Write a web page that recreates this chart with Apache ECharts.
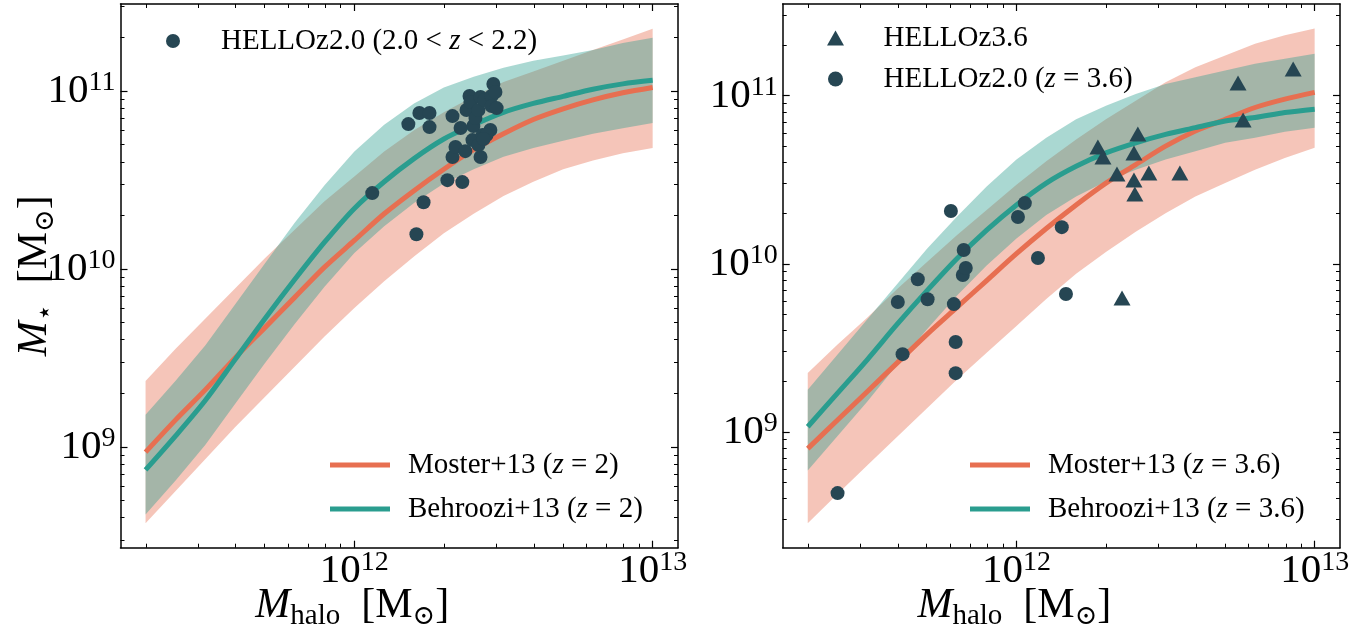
<!DOCTYPE html>
<html>
<head>
<meta charset="utf-8">
<script src="https://cdn.jsdelivr.net/npm/echarts@6/dist/echarts.min.js"></script>
<style>
  html, body { margin: 0; padding: 0; background: #ffffff; }
  #chart { width: 1365px; height: 633px; }
</style>
</head>
<body>
<div id="chart"></div>
<script>
// All quantities are log10 of masses in solar units.

// Halo-mass grid on which the model relations are tabulated
const logMhGrid = [11.3, 11.4, 11.5, 11.6, 11.7, 11.8, 11.9, 12.0, 12.1, 12.2,
                   12.3, 12.4, 12.5, 12.6, 12.7, 12.8, 12.9, 13.0];

// ---- z = 2 panel ----
const mosterZ2    = [8.97, 9.15, 9.32, 9.50, 9.67, 9.84, 10.01, 10.16, 10.31, 10.44,
                     10.56, 10.67, 10.76, 10.84, 10.90, 10.95, 10.99, 11.02];
const mosterZ2Hi  = [9.37, 9.55, 9.72, 9.89, 10.06, 10.22, 10.38, 10.52, 10.66, 10.78,
                     10.88, 10.97, 11.05, 11.11, 11.17, 11.23, 11.29, 11.35];
const mosterZ2Lo  = [8.57, 8.75, 8.93, 9.11, 9.28, 9.45, 9.62, 9.78, 9.93, 10.07,
                     10.20, 10.31, 10.41, 10.49, 10.56, 10.61, 10.65, 10.68];
const behrooziZ2   = [8.87, 9.06, 9.26, 9.49, 9.72, 9.94, 10.15, 10.34, 10.49, 10.62,
                      10.73, 10.81, 10.88, 10.93, 10.97, 11.01, 11.04, 11.06];
const behrooziZ2Hi = [9.18, 9.37, 9.57, 9.80, 10.03, 10.26, 10.47, 10.66, 10.81, 10.93,
                      11.02, 11.08, 11.13, 11.17, 11.20, 11.23, 11.27, 11.30];
const behrooziZ2Lo = [8.62, 8.81, 9.01, 9.24, 9.47, 9.69, 9.90, 10.09, 10.24, 10.37,
                      10.48, 10.56, 10.63, 10.68, 10.72, 10.76, 10.79, 10.82];

// HELLO galaxies, 2.0 < z < 2.2: [log Mhalo, log Mstar]
const helloZ20 = [
  [12.060, 10.426], [12.181, 10.814], [12.218, 10.876], [12.252, 10.876], [12.252, 10.797],
  [12.208, 10.195], [12.232, 10.375], [12.312, 10.499], [12.329, 10.629], [12.329, 10.859],
  [12.339, 10.685], [12.356, 10.792], [12.362, 10.488], [12.372, 10.662], [12.376, 10.893],
  [12.386, 10.972], [12.389, 10.938], [12.396, 10.724], [12.399, 10.803], [12.406, 10.848],
  [12.416, 10.893], [12.423, 10.966], [12.430, 10.752], [12.436, 10.949], [12.423, 10.629],
  [12.460, 10.972], [12.460, 10.916], [12.456, 10.781], [12.466, 11.039], [12.473, 10.994],
  [12.477, 10.904], [12.443, 10.752], [12.416, 10.696], [12.433, 10.730]
];

// ---- z = 3.6 panel ----
const mosterZ36    = [8.90, 9.07, 9.24, 9.41, 9.58, 9.74, 9.90, 10.06, 10.21, 10.35,
                      10.48, 10.59, 10.70, 10.79, 10.86, 10.93, 10.98, 11.02];
const mosterZ36Hi  = [9.35, 9.52, 9.68, 9.85, 10.01, 10.17, 10.32, 10.47, 10.61, 10.74,
                      10.86, 10.97, 11.08, 11.17, 11.24, 11.31, 11.36, 11.40];
const mosterZ36Lo  = [8.455, 8.63, 8.80, 8.97, 9.14, 9.31, 9.47, 9.63, 9.79, 9.94,
                      10.07, 10.19, 10.30, 10.40, 10.48, 10.56, 10.63, 10.69];
const behrooziZ36   = [9.03, 9.23, 9.43, 9.64, 9.84, 10.03, 10.20, 10.35, 10.48, 10.58,
                       10.66, 10.72, 10.77, 10.81, 10.85, 10.87, 10.90, 10.92];
const behrooziZ36Hi = [9.25, 9.46, 9.67, 9.88, 10.09, 10.28, 10.46, 10.62, 10.75, 10.86,
                       10.94, 11.01, 11.07, 11.11, 11.15, 11.19, 11.22, 11.25];
const behrooziZ36Lo = [8.77, 8.975, 9.18, 9.40, 9.61, 9.81, 9.99, 10.15, 10.29, 10.40,
                       10.49, 10.56, 10.62, 10.67, 10.72, 10.75, 10.785, 10.81];

// HELLO z = 3.6 galaxies
const helloZ36 = [
  [12.273, 10.695], [12.290, 10.635], [12.337, 10.534], [12.394, 10.659], [12.407, 10.772],
  [12.394, 10.498], [12.397, 10.415], [12.444, 10.540], [12.548, 10.540], [12.354, 9.796],
  [12.743, 11.076], [12.760, 10.855], [12.928, 11.159]
];
// HELLO z = 2.0 galaxies evolved to z = 3.6
const helloZ20at36 = [
  [11.400, 8.635], [11.602, 9.772], [11.618, 9.462], [11.669, 9.908], [11.702, 9.789],
  [11.790, 9.760], [11.820, 9.933], [11.796, 9.534], [11.796, 9.349], [11.780, 10.314],
  [11.823, 10.082], [11.830, 9.975], [12.005, 10.278], [12.028, 10.361], [12.072, 10.034],
  [12.152, 10.218], [12.166, 9.820]
];

// Axis ranges (log10) and labelled decades
const xRange = [11.216, 13.085];
const yRangeLeft = [8.433, 11.489];
const yRangeRight = [8.31, 11.546];
const xMajor = [12, 13];
const yMajor = [9, 10, 11];

const C_MOSTER = '#E76F51';
const C_BEHROOZI = '#2A9D8F';
const C_DATA = '#264653';
const SERIF = '"Liberation Serif", "DejaVu Serif", serif';

function minorTicks(lo, hi) {
  const out = [];
  for (let n = Math.floor(lo); n <= Math.ceil(hi); n++) {
    for (let k = 2; k <= 9; k++) {
      const v = n + Math.log10(k);
      if (v > lo && v < hi) out.push(v);
    }
  }
  return out;
}

const tickRich = {
  b: { fontFamily: SERIF, fontSize: 41, lineHeight: 45, color: '#000' },
  s: { fontFamily: SERIF, fontSize: 28, lineHeight: 29, verticalAlign: 'top', color: '#000' }
};
const powerLabel = v => '{b|10}{s|' + Math.round(v) + '}';

// Four axes per side pair: labelled major, minor, mirrored major, mirrored minor
function axisSet(dim, gridIndex, range, majors, extra) {
  const low = dim === 'x' ? 'bottom' : 'left';
  const high = dim === 'x' ? 'top' : 'right';
  const minors = minorTicks(range[0], range[1]);
  const line = { show: true, onZero: false, lineStyle: { color: '#000', width: 1.5 } };
  const majTick = { show: true, inside: true, length: 7, customValues: majors, lineStyle: { color: '#000', width: 1.2 } };
  const minTick = { show: true, inside: true, length: 4, customValues: minors, lineStyle: { color: '#000', width: 1 } };
  const base = { type: 'value', gridIndex, min: range[0], max: range[1], splitLine: { show: false } };
  return [
    Object.assign({}, base, {
      position: low, axisLine: line, axisTick: majTick,
      axisLabel: { show: true, customValues: majors, formatter: powerLabel, rich: tickRich,
                   margin: dim === 'x' ? 1 : 5 }
    }, extra || {}),
    Object.assign({}, base, { position: low, axisLine: { show: false }, axisTick: minTick, axisLabel: { show: false } }),
    Object.assign({}, base, { position: high, axisLine: line, axisTick: majTick, axisLabel: { show: false } }),
    Object.assign({}, base, { position: high, axisLine: { show: false }, axisTick: minTick, axisLabel: { show: false } })
  ];
}

const titleRich = {
  i: { fontFamily: SERIF, fontStyle: 'italic', fontSize: 42, lineHeight: 50, color: '#000' },
  t: { fontFamily: SERIF, fontSize: 42, lineHeight: 50, color: '#000' },
  sub: { fontFamily: SERIF, fontSize: 29, lineHeight: 24, verticalAlign: 'bottom', color: '#000' },
  sym: { fontFamily: '"DejaVu Serif", serif', fontSize: 27, lineHeight: 24, verticalAlign: 'bottom', color: '#000' }
};
const xTitle = {
  name: '{i|M}{sub|halo}{t|  [M}{sym|⊙}{t|]}',
  nameLocation: 'middle', nameGap: 33, nameMoveOverlap: false,
  nameTextStyle: { rich: titleRich, padding: [0, 94, 0, 0] }
};
const yTitle = {
  name: '{i|M}{sym|⋆}{t|  [M}{sym|⊙}{t|]}',
  nameLocation: 'middle', nameGap: 61, nameRotate: 90, nameMoveOverlap: false,
  nameTextStyle: { rich: titleRich }
};

function band(xi, yi, xs, hi, lo, color) {
  return {
    type: 'custom', xAxisIndex: xi, yAxisIndex: yi, silent: true, z: 1,
    data: [[xs[0], hi[0]]],
    renderItem: function (params, api) {
      const pts = [];
      for (let i = 0; i < xs.length; i++) pts.push(api.coord([xs[i], hi[i]]));
      for (let i = xs.length - 1; i >= 0; i--) pts.push(api.coord([xs[i], lo[i]]));
      return { type: 'polygon', shape: { points: pts }, style: { fill: color, opacity: 0.4 } };
    }
  };
}

function curve(name, xi, yi, ys, color) {
  return {
    type: 'line', name, xAxisIndex: xi, yAxisIndex: yi, z: 3,
    data: logMhGrid.map((x, i) => [x, ys[i]]),
    showSymbol: false, smooth: 0.3, silent: true,
    lineStyle: { color, width: 5 }, itemStyle: { color }
  };
}

function points(name, xi, yi, data, symbol, size) {
  return {
    type: 'scatter', name, xAxisIndex: xi, yAxisIndex: yi, z: 5,
    data, symbol, symbolSize: size, silent: true,
    itemStyle: { color: C_DATA, opacity: 1 }
  };
}

const legendText = {
  'HELLOz2.0 (2.0<z<2.2)': 'HELLOz2.0 (2.0 < {i|z} < 2.2)',
  'HELLOz3.6': 'HELLOz3.6',
  'HELLOz2.0 (z=3.6)': 'HELLOz2.0 ({i|z} = 3.6)',
  'Moster+13 (z=2)': 'Moster+13 ({i|z} = 2)',
  'Behroozi+13 (z=2)': 'Behroozi+13 ({i|z} = 2)',
  'Moster+13 (z=3.6)': 'Moster+13 ({i|z} = 3.6)',
  'Behroozi+13 (z=3.6)': 'Behroozi+13 ({i|z} = 3.6)'
};
const legendStyle = {
  fontFamily: SERIF, fontSize: 29, lineHeight: 32, color: '#000',
  rich: { i: { fontFamily: SERIF, fontStyle: 'italic', fontSize: 29, lineHeight: 32, color: '#000' } }
};
function legend(left, top, names, opts) {
  return Object.assign({
    left, top, orient: 'vertical', padding: 0, itemGap: 9,
    selectedMode: false, data: names,
    formatter: n => legendText[n],
    textStyle: Object.assign({}, legendStyle, { padding: [0, 0, 0, 13] })
  }, opts);
}

const TRIANGLE = 'path://M0,15 L8.5,0 L17,15 Z';

const option = {
  animation: false,
  backgroundColor: '#ffffff',
  grid: [
    { left: 120.5, top: 4, width: 557.5, height: 543.7, outerBoundsMode: 'none', containLabel: false },
    { left: 782.7, top: 4, width: 557.3, height: 543.7, outerBoundsMode: 'none', containLabel: false }
  ],
  xAxis: [].concat(
    axisSet('x', 0, xRange, xMajor, xTitle),
    axisSet('x', 1, xRange, xMajor, xTitle)
  ),
  yAxis: [].concat(
    axisSet('y', 0, yRangeLeft, yMajor, yTitle),
    axisSet('y', 1, yRangeRight, yMajor)
  ),
  legend: [
    legend(166, 25, ['HELLOz2.0 (2.0<z<2.2)'], { itemWidth: 60, itemHeight: 14 }),
    legend(330, 449, ['Moster+13 (z=2)', 'Behroozi+13 (z=2)'], { itemWidth: 60, itemHeight: 5, icon: 'rect', itemGap: 12 }),
    legend(827, 22, [{ name: 'HELLOz3.6', icon: TRIANGLE }, { name: 'HELLOz2.0 (z=3.6)', icon: 'circle' }],
           { itemWidth: 60, itemHeight: 15 }),
    legend(970, 449, ['Moster+13 (z=3.6)', 'Behroozi+13 (z=3.6)'], { itemWidth: 60, itemHeight: 5, icon: 'rect', itemGap: 12 })
  ],
  series: [
    band(0, 0, logMhGrid, mosterZ2Hi, mosterZ2Lo, C_MOSTER),
    band(0, 0, logMhGrid, behrooziZ2Hi, behrooziZ2Lo, C_BEHROOZI),
    curve('Moster+13 (z=2)', 0, 0, mosterZ2, C_MOSTER),
    curve('Behroozi+13 (z=2)', 0, 0, behrooziZ2, C_BEHROOZI),
    points('HELLOz2.0 (2.0<z<2.2)', 0, 0, helloZ20, 'circle', 14),

    band(4, 4, logMhGrid, mosterZ36Hi, mosterZ36Lo, C_MOSTER),
    band(4, 4, logMhGrid, behrooziZ36Hi, behrooziZ36Lo, C_BEHROOZI),
    curve('Moster+13 (z=3.6)', 4, 4, mosterZ36, C_MOSTER),
    curve('Behroozi+13 (z=3.6)', 4, 4, behrooziZ36, C_BEHROOZI),
    points('HELLOz3.6', 4, 4, helloZ36, 'triangle', [17, 15]),
    points('HELLOz2.0 (z=3.6)', 4, 4, helloZ20at36, 'circle', 14)
  ]
};

const chart = echarts.init(document.getElementById('chart'), null, { renderer: 'canvas' });
chart.setOption(option);
</script>
</body>
</html>
